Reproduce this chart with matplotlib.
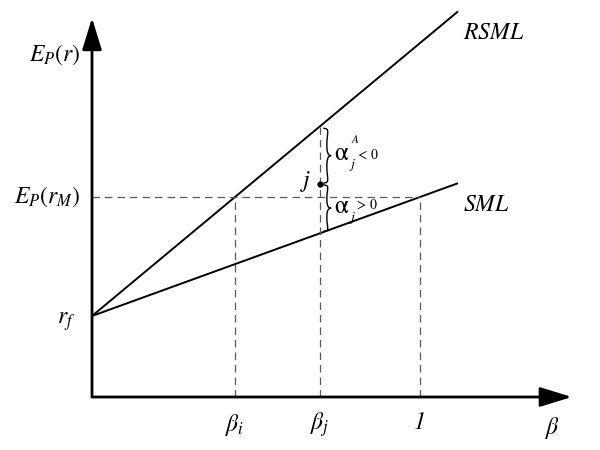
import matplotlib
matplotlib.use("Agg")
import matplotlib.pyplot as plt
import numpy as np
from matplotlib.path import Path
from matplotlib.patches import PathPatch

plt.rcParams['mathtext.fontset'] = 'stix'
plt.rcParams['font.family'] = ['STIXGeneral', 'DejaVu Serif']

# schematic values
r_f = 0.405
E_M = 1.0
beta_i = 0.436
beta_j = 0.695
beta_m = 1.0
beta_end = 1.116
E_j = 1.065
x_axis_end = 1.463
y_axis_end = 1.895

sml_slope = (E_M - r_f) / beta_m
rsml_slope = (E_M - r_f) / beta_i

fig = plt.figure(figsize=(6, 4.5), dpi=100)
ax = fig.add_axes([0, 0, 1, 1])
ax.set_xlim(-0.2805, 1.5488)
ax.set_ylim(-0.265, 1.985)
ax.set_axis_off()

# axes with arrows
arr = dict(arrowstyle="-|>,head_length=1.3,head_width=0.4", lw=2, color="k",
           mutation_scale=15, shrinkA=0, shrinkB=0)
ax.annotate("", xy=(0, y_axis_end), xytext=(0, 0), arrowprops=arr)
ax.annotate("", xy=(x_axis_end, 0), xytext=(0, 0), arrowprops=arr)

# SML and RSML
b = np.array([0, beta_end])
ax.plot(b, r_f + sml_slope * b, color="k", lw=1.4, solid_capstyle="butt")
ax.plot(b, r_f + rsml_slope * b, color="k", lw=1.4, solid_capstyle="butt")

# dashed guides
dash = dict(color="0.35", lw=0.9, dashes=(6, 4))
ax.plot([0, beta_m], [E_M, E_M], **dash)
ax.plot([beta_i, beta_i], [0, E_M], **dash)
ax.plot([beta_m, beta_m], [0, E_M], **dash)
ax.plot([beta_j, beta_j], [0, r_f + rsml_slope * beta_j], **dash)

# point j
ax.plot([beta_j], [E_j], "o", color="k", ms=3.5)


def brace(x, y0, y1, w):
    ym = (y0 + y1) / 2
    h = (y1 - y0)
    verts = [(x, y0), (x + w, y0), (x + w * 0.5, y0 + h * 0.08), (x + w * 0.5, y0 + h * 0.3),
             (x + w * 0.5, y0 + h * 0.42), (x + w * 0.6, ym), (x + w * 1.1, ym),
             (x + w * 0.6, ym), (x + w * 0.5, y1 - h * 0.42), (x + w * 0.5, y1 - h * 0.3),
             (x + w * 0.5, y1 - h * 0.08), (x + w, y1), (x, y1)]
    codes = [Path.MOVETO] + [Path.CURVE4] * 12
    ax.add_patch(PathPatch(Path(verts, codes), fill=False, lw=1.0, color="k"))


y_rsml_j = r_f + rsml_slope * beta_j
y_sml_j = r_f + sml_slope * beta_j
brace(beta_j + 0.01, y_rsml_j - 0.01, E_j + 0.005, 0.022)
brace(beta_j + 0.01, E_j - 0.005, y_sml_j + 0.01, 0.022)

fs = 17
ax.text(-0.035, 1.71, r"$E_P(r)$", fontsize=fs, ha="right", va="center")
ax.text(-0.035, E_M, r"$E_P(r_M)$", fontsize=fs, ha="right", va="center")
ax.text(-0.05, r_f - 0.03, r"$r_f$", fontsize=fs, ha="right", va="center")
ax.text(beta_i, -0.14, r"$\beta_i$", fontsize=fs, ha="center", va="center")
ax.text(beta_j, -0.14, r"$\beta_j$", fontsize=fs, ha="center", va="center")
ax.text(beta_m, -0.13, "1", fontsize=fs, style="italic", ha="center", va="center")
ax.text(1.405, -0.155, r"$\beta$", fontsize=fs, ha="center", va="center")
ax.text(1.13, 1.82, r"$RSML$", fontsize=fs, ha="left", va="center")
ax.text(1.13, 0.96, r"$SML$", fontsize=fs, ha="left", va="center")
ax.text(beta_j - 0.025, 1.075, r"$j$", fontsize=fs, ha="right", va="center")

# alpha labels beside the braces
ax.text(0.759, 1.215, "α", fontsize=18, ha="center", va="center")
ax.text(0.795, 1.16, "j", fontsize=10, style="italic", ha="center", va="center")
ax.text(0.803, 1.285, "A", fontsize=8, style="italic", ha="center", va="center")
ax.text(0.810, 1.21, "< 0", fontsize=10, ha="left", va="center")
ax.text(0.759, 0.948, "α", fontsize=18, ha="center", va="center")
ax.text(0.795, 0.895, "j", fontsize=10, style="italic", ha="center", va="center")
ax.text(0.808, 0.962, "> 0", fontsize=10, ha="left", va="center")

fig.savefig("out.png", dpi=100, facecolor="white")
